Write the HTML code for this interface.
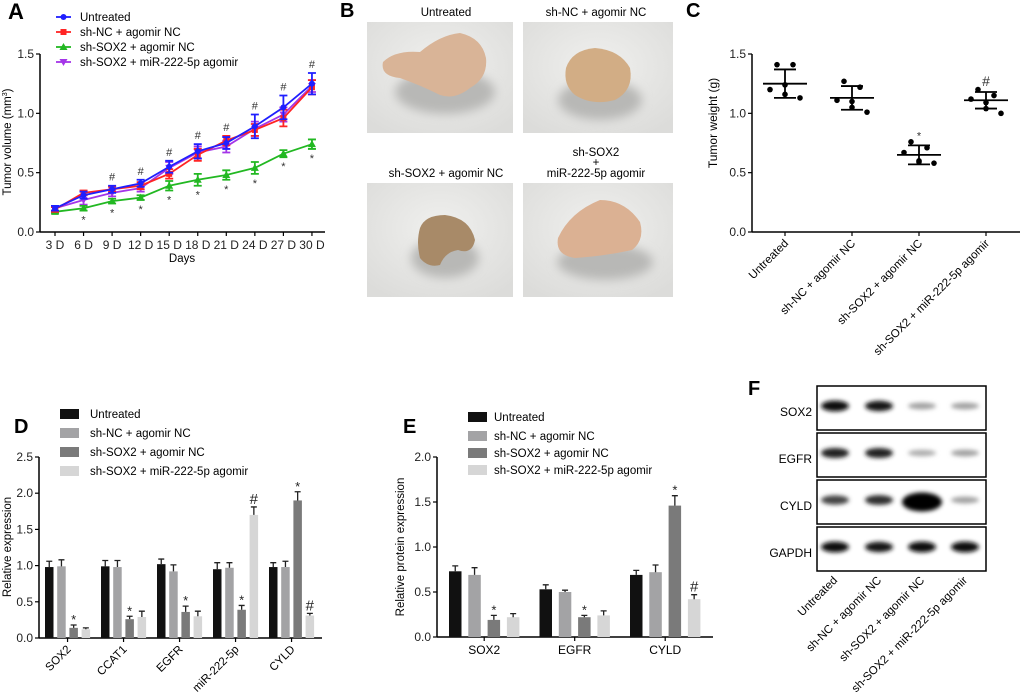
<!DOCTYPE html>
<html><head><meta charset="utf-8"><style>
html,body{margin:0;padding:0;background:#fff;}
svg{display:block;font-family:"Liberation Sans",Arial,sans-serif;}
</style></head><body>
<svg id="fig" width="1020" height="697" viewBox="0 0 1020 697" xmlns="http://www.w3.org/2000/svg">
<defs>
<filter id="blur2" x="-50%" y="-100%" width="200%" height="300%"><feGaussianBlur stdDeviation="2"/></filter>
<filter id="blur5" x="-50%" y="-50%" width="200%" height="200%"><feGaussianBlur stdDeviation="5"/></filter>
<radialGradient id="bg" cx="50%" cy="40%" r="70%"><stop offset="0" stop-color="#f0f0ee"/><stop offset="1" stop-color="#dcdcda"/></radialGradient>
</defs>
<g id="A"></g>
<g id="B">
  <text x="340" y="17" font-size="20" font-weight="bold">B</text>
  <text x="446" y="16" font-size="11.5" text-anchor="middle">Untreated</text>
  <text x="596" y="16" font-size="11.5" text-anchor="middle">sh-NC + agomir NC</text>
  <text x="446" y="177" font-size="11.5" text-anchor="middle">sh-SOX2 + agomir NC</text>
  <text x="596" y="156" font-size="11.5" text-anchor="middle">sh-SOX2</text>
  <text x="596" y="166" font-size="11.5" text-anchor="middle">+</text>
  <text x="596" y="177" font-size="11.5" text-anchor="middle">miR-222-5p agomir</text>
  <g>
    <rect x="367" y="22" width="146" height="111" fill="url(#bg)"/>
    <ellipse cx="445" cy="92" rx="50" ry="22" fill="#b8b8b6" filter="url(#blur5)"/>
    <path d="M383 62 Q395 50 420 52 Q440 35 460 33 Q482 38 486 58 Q488 78 470 88 Q455 100 440 95 Q420 85 400 78 Q380 76 383 62Z" fill="#d9b497"/>
  </g>
  <g>
    <rect x="523" y="22" width="150" height="111" fill="url(#bg)"/>
    <ellipse cx="600" cy="100" rx="42" ry="20" fill="#b8b8b6" filter="url(#blur5)"/>
    <path d="M566 68 Q572 50 595 48 Q620 50 630 68 Q634 90 615 100 Q592 106 575 95 Q563 85 566 68Z" fill="#d2ad85"/>
  </g>
  <g>
    <rect x="367" y="183" width="146" height="114" fill="url(#bg)"/>
    <ellipse cx="445" cy="258" rx="34" ry="20" fill="#b8b8b6" filter="url(#blur5)"/>
    <path d="M420 228 Q425 215 445 215 Q470 218 475 240 Q472 255 458 250 Q445 252 440 265 Q428 268 420 258 Q416 242 420 228Z" fill="#a88a68"/>
  </g>
  <g>
    <rect x="523" y="183" width="150" height="114" fill="url(#bg)"/>
    <ellipse cx="605" cy="262" rx="48" ry="18" fill="#b8b8b6" filter="url(#blur5)"/>
    <path d="M558 238 Q570 212 600 200 Q625 200 640 222 Q645 240 632 250 Q605 256 575 258 Q555 255 558 238Z" fill="#dbb193"/>
  </g>
</g>
<g id="C"></g>
<g id="D"></g>
<g id="E"></g>
<g id="F"></g>
</svg>
<script>
const NS='http://www.w3.org/2000/svg';
function mk(parent,tag,attrs,txt){const e=document.createElementNS(NS,tag);for(const k in attrs)e.setAttribute(k,attrs[k]);if(txt!==undefined)e.textContent=txt;parent.appendChild(e);return e;}

// ---------- Panel A data ----------
const daysLabels=['3 D','6 D','9 D','12 D','15 D','18 D','21 D','24 D','27 D','30 D'];
const untreatedVol=[0.20,0.31,0.36,0.41,0.55,0.68,0.75,0.89,1.05,1.25];
const shncVol=[0.19,0.33,0.36,0.39,0.49,0.65,0.77,0.86,0.96,1.22];
const shsox2Vol=[0.17,0.20,0.26,0.29,0.39,0.44,0.48,0.54,0.66,0.74];
const mirVol=[0.20,0.27,0.33,0.37,0.54,0.67,0.72,0.87,0.99,1.23];
const untreatedErr=[0.02,0.03,0.03,0.03,0.05,0.06,0.05,0.10,0.10,0.09];
const shncErr=[0.02,0.02,0.02,0.03,0.04,0.05,0.04,0.05,0.07,0.06];
const shsox2Err=[0.01,0.02,0.02,0.02,0.04,0.05,0.04,0.05,0.03,0.04];
const mirErr=[0.02,0.04,0.03,0.03,0.05,0.05,0.05,0.06,0.06,0.05];
const aTicks=[0,0.5,1.0,1.5];

// ---------- Panel C data ----------
const cGroups=['Untreated','sh-NC + agomir NC','sh-SOX2 + agomir NC','sh-SOX2 + miR-222-5p agomir'];
const cPoints=[[1.41,1.41,1.20,1.24,1.16,1.13],[1.27,1.22,1.11,1.10,1.05,1.01],[0.76,0.71,0.67,0.60,0.59,0.58],[1.20,1.15,1.12,1.09,1.04,1.00]];
const cMeans=[1.25,1.13,0.65,1.11];
const cSD=[0.12,0.10,0.08,0.07];
const cMarks=['','','*','#'];

// ---------- Panel D data ----------
const dGenes=['SOX2','CCAT1','EGFR','miR-222-5p','CYLD'];
const dUntreated=[0.98,0.99,1.02,0.95,0.98];
const dShnc=[0.99,0.98,0.92,0.97,0.98];
const dShsox2=[0.14,0.26,0.36,0.39,1.90];
const dMir=[0.12,0.29,0.30,1.70,0.31];
const dErr=[[0.08,0.08,0.07,0.09,0.06],[0.09,0.09,0.09,0.07,0.08],[0.04,0.04,0.08,0.06,0.12],[0.02,0.08,0.07,0.11,0.03]];
const dMarks=[['','','','',''],['','','','',''],['*','*','*','*','*'],['','','','#','#']];
const dTicks=[0,0.5,1.0,1.5,2.0,2.5];

// ---------- Panel E data ----------
const eProteins=['SOX2','EGFR','CYLD'];
const eUntreated=[0.73,0.53,0.69];
const eShnc=[0.69,0.50,0.72];
const eShsox2=[0.19,0.22,1.46];
const eMir=[0.22,0.24,0.42];
const eErr=[[0.06,0.05,0.05],[0.08,0.02,0.08],[0.05,0.02,0.11],[0.04,0.05,0.05]];
const eMarks=[['','',''],['','',''],['*','*','*'],['','','#']];
const eTicks=[0,0.5,1.0,1.5,2.0];

// ---------- Panel F data (band intensities 0..1) ----------
const fProteins=['SOX2','EGFR','CYLD','GAPDH'];
const fLanes=['Untreated','sh-NC + agomir NC','sh-SOX2 + agomir NC','sh-SOX2 + miR-222-5p agomir'];
const fIntensity=[[0.95,0.9,0.3,0.3],[0.85,0.85,0.25,0.3],[0.7,0.8,1.0,0.3],[0.95,0.9,0.95,0.95]];

const groupColorsBar=['#111111','#a3a3a5','#7a7a7a','#d6d6d6'];
const legendNames=['Untreated','sh-NC + agomir NC','sh-SOX2 + agomir NC','sh-SOX2 + miR-222-5p agomir'];

// ================= Panel A =================
(function(){
const g=document.getElementById('A');
const ax=i=>55+i*28.55, ay=v=>232-v*(178/1.5);
let t=mk(g,'text',{x:8,y:19,'font-size':22,'font-weight':'bold'},'A');


let l=mk(g,'line',{x1:40,y1:54,x2:40,y2:232,stroke:'#000','stroke-width':1.5});


l=mk(g,'line',{x1:40,y1:232,x2:325,y2:232,stroke:'#000','stroke-width':1.5});


aTicks.forEach(v=>{
  mk(g,'line',{x1:36,y1:ay(v),x2:40,y2:ay(v),stroke:'#000','stroke-width':1.2});
  const tx=mk(g,'text',{x:34,y:ay(v)+4,'font-size':12,'text-anchor':'end',fill:'#222'},v.toFixed(1));
  
  
});
daysLabels.forEach((d,i)=>{
  mk(g,'line',{x1:ax(i),y1:232,x2:ax(i),y2:236,stroke:'#000','stroke-width':1.2});
  const tx=mk(g,'text',{x:ax(i),y:249,'font-size':12,'text-anchor':'middle',fill:'#222'},d);
  
  
});
t=mk(g,'text',{x:182,y:262,'font-size':11.5,'text-anchor':'middle'},'Days');


t=mk(g,'text',{x:0,y:0,'font-size':11.5,'text-anchor':'middle',transform:'translate(11,142) rotate(-90)'});
t.innerHTML='Tumor volume (mm<tspan font-size="7" dy="-4">3</tspan><tspan dy="4">)</tspan>';


const series=[[untreatedVol,untreatedErr,'#1f1fff','circle'],[shncVol,shncErr,'#ff2424','square'],[shsox2Vol,shsox2Err,'#22b822','tri'],[mirVol,mirErr,'#a435e8','itri']];
function marker(gg,x,y,type,c,s){
  if(type==='circle')return mk(gg,'circle',{cx:x,cy:y,r:s,fill:c});
  if(type==='square')return mk(gg,'rect',{x:x-s,y:y-s,width:2*s,height:2*s,fill:c});
  if(type==='tri')return mk(gg,'polygon',{points:`${x},${y-s-1} ${x-s-1},${y+s} ${x+s+1},${y+s}`,fill:c});
  return mk(gg,'polygon',{points:`${x},${y+s+1} ${x-s-1},${y-s} ${x+s+1},${y-s}`,fill:c});
}
const order=[3,2,1,0];
order.forEach(si=>{
  const [vals,errs,c,type]=series[si];
  const sg=mk(g,'g',{});
  
  
  const pl=mk(sg,'polyline',{points:vals.map((v,i)=>ax(i)+','+ay(v)).join(' '),fill:'none',stroke:c,'stroke-width':1.8});
  
  
  vals.forEach((v,i)=>{
    const x=ax(i),y1=ay(v+errs[i]),y2=ay(v-errs[i]);
    mk(sg,'path',{d:`M${x},${y1}V${y2}M${x-4},${y1}H${x+4}M${x-4},${y2}H${x+4}`,stroke:c,'stroke-width':1.8,fill:'none'});
    const m=marker(sg,x,ay(v),type,c,3);
    
    
  });
});
untreatedVol.forEach((v,i)=>{
  if(i<2)return;
  const top=Math.max(v+untreatedErr[i],mirVol[i]+mirErr[i],shncVol[i]+shncErr[i]);
  const tx=mk(g,'text',{x:ax(i),y:ay(top)-5,'font-size':11,'text-anchor':'middle',fill:'#333'},'#');
  
  
});
shsox2Vol.forEach((v,i)=>{
  if(i<1)return;
  const tx=mk(g,'text',{x:ax(i),y:ay(v-shsox2Err[i])+13,'font-size':11,'text-anchor':'middle',fill:'#333'},'*');
  
  
});
series.forEach((s,i)=>{
  const y=17+i*15;
  const lg=mk(g,'g',{});
  
  
  mk(lg,'line',{x1:56,y1:y,x2:71,y2:y,stroke:s[2],'stroke-width':1.8});
  marker(lg,63.5,y,s[3],s[2],3);
  mk(lg,'text',{x:80,y:y+4,'font-size':11.5},legendNames[i]);
});
})();

// ================= Panel C =================
(function(){
const g=document.getElementById('C');
const cx=i=>785+i*67, cy=v=>232-v*(178/1.5);
let t=mk(g,'text',{x:686,y:17,'font-size':20,'font-weight':'bold'},'C');


let l=mk(g,'line',{x1:752,y1:54,x2:752,y2:232,stroke:'#000','stroke-width':1.5});


l=mk(g,'line',{x1:752,y1:232,x2:1020,y2:232,stroke:'#000','stroke-width':1.5});


aTicks.forEach(v=>{
  mk(g,'line',{x1:748,y1:cy(v),x2:752,y2:cy(v),stroke:'#000','stroke-width':1.2});
  const tx=mk(g,'text',{x:746,y:cy(v)+4,'font-size':12,'text-anchor':'end',fill:'#222'},v.toFixed(1));
  
  
});
t=mk(g,'text',{x:0,y:0,'font-size':12,'text-anchor':'middle',transform:'translate(717,123) rotate(-90)'},'Tumor weight (g)');


const offs=[-8,8,-15,0,0,15];
cGroups.forEach((name,i)=>{
  const x=cx(i);
  mk(g,'line',{x1:x,y1:232,x2:x,y2:236,stroke:'#000','stroke-width':1.2});
  const tx=mk(g,'text',{x:x+4,y:244,'font-size':11.5,'text-anchor':'end',transform:`rotate(-45 ${x+4} 244)`},name);
  
  
  const gg=mk(g,'g',{});
  
  
  const sorted=cPoints[i];
  sorted.forEach((v,j)=>{
    const p=mk(gg,'circle',{cx:x+offs[j],cy:cy(v),r:2.8,fill:'#000'});
    
    
  });
  const m=cMeans[i],s=cSD[i];
  const ml=mk(gg,'line',{x1:x-22,y1:cy(m),x2:x+22,y2:cy(m),stroke:'#000','stroke-width':1.8});
  
  
  mk(gg,'path',{d:`M${x},${cy(m+s)}V${cy(m-s)}M${x-11},${cy(m+s)}H${x+11}M${x-11},${cy(m-s)}H${x+11}`,stroke:'#000','stroke-width':1.8,fill:'none'});
  if(cMarks[i]){
    const mt=mk(g,'text',{x:x,y:cy(m+s)-6,'font-size':cMarks[i]==='#'?14:11,'text-anchor':'middle',fill:'#333'},cMarks[i]);
    
    
  }
});
})();

// ================= Bar chart helper =================
function barChart(g,prefix,cats,seriesVals,errs,marks,ticks,axisX,baseY,topY,maxV,axisEnd,x0,groupStep,barStep,barW,labelRot,catY){
  const yy=v=>baseY-v*(baseY-topY)/maxV;
  let l=mk(g,'line',{x1:axisX,y1:topY,x2:axisX,y2:baseY,stroke:'#000','stroke-width':1.5});
  
  
  l=mk(g,'line',{x1:axisX,y1:baseY,x2:axisEnd,y2:baseY,stroke:'#000','stroke-width':1.5});
  
  
  ticks.forEach(v=>{
    mk(g,'line',{x1:axisX-4,y1:yy(v),x2:axisX,y2:yy(v),stroke:'#000','stroke-width':1.2});
    const tx=mk(g,'text',{x:axisX-6,y:yy(v)+4,'font-size':12,'text-anchor':'end',fill:'#222'},v.toFixed(1));
    
    
  });
  cats.forEach((c,gi)=>{
    const cxm=x0+gi*groupStep+(3*barStep+barW)/2;
    mk(g,'line',{x1:cxm,y1:baseY,x2:cxm,y2:baseY+4,stroke:'#000','stroke-width':1.2});
    let tx;
    if(labelRot){tx=mk(g,'text',{x:cxm+4,y:catY,'font-size':11.5,'text-anchor':'end',transform:`rotate(-45 ${cxm+4} ${catY})`},c);}
    else{tx=mk(g,'text',{x:cxm,y:catY,'font-size':12,'text-anchor':'middle'},c);}
    
    
    seriesVals.forEach((vals,si)=>{
      const x=x0+gi*groupStep+si*barStep,v=vals[gi],e=errs[si][gi];
      const r=mk(g,'rect',{x:x,y:yy(v),width:barW,height:baseY-yy(v),fill:groupColorsBar[si]});
      
      
      const xc=x+barW/2;
      mk(g,'path',{d:`M${xc},${yy(v)}V${yy(v+e)}M${xc-3},${yy(v+e)}H${xc+3}`,stroke:'#222','stroke-width':1.3,fill:'none'});
      const mkr=marks[si][gi];
      if(mkr){
        const mt=mk(g,'text',{x:xc,y:yy(v+e)-(mkr==='#'?3:1),'font-size':mkr==='#'?15:13,'text-anchor':'middle',fill:'#222'},mkr);
        
        
      }
    });
  });
}
function legend(g,prefix,sx,ys,tx){
  legendNames.forEach((n,i)=>{
    const lg=mk(g,'g',{});
    
    
    mk(lg,'rect',{x:sx,y:ys[i]-5,width:19,height:10,fill:groupColorsBar[i]});
    mk(lg,'text',{x:tx,y:ys[i]+4,'font-size':11.5},n);
  });
}

// ================= Panel D =================
(function(){
const g=document.getElementById('D');
let t=mk(g,'text',{x:14,y:433,'font-size':20,'font-weight':'bold'},'D');


t=mk(g,'text',{x:0,y:0,'font-size':11.5,'text-anchor':'middle',transform:'translate(11,547) rotate(-90)'},'Relative expression');


barChart(g,'d',dGenes,[dUntreated,dShnc,dShsox2,dMir],dErr,dMarks,dTicks,39,638,457,2.5,322,45,56,12.2,8.5,true,650);
legend(g,'d',60,[414,433,452,471],90);
})();

// ================= Panel E =================
(function(){
const g=document.getElementById('E');
let t=mk(g,'text',{x:403,y:433,'font-size':20,'font-weight':'bold'},'E');


t=mk(g,'text',{x:0,y:0,'font-size':11.5,'text-anchor':'middle',transform:'translate(404,547) rotate(-90)'},'Relative protein expression');


barChart(g,'e',eProteins,[eUntreated,eShnc,eShsox2,eMir],eErr,eMarks,eTicks,437,637,457,2.0,713,449,90.5,19.3,12.5,false,654);
legend(g,'e',468,[417,436,453,470],494);
})();

// ================= Panel F =================
(function(){
const g=document.getElementById('F');
let t=mk(g,'text',{x:748,y:395,'font-size':20,'font-weight':'bold'},'F');


const boxY=[386,433,480,527],boxH=44,laneX=[835,879,922,965];
fProteins.forEach((p,ri)=>{
  const bg=mk(g,'g',{});
  
  
  mk(bg,'rect',{x:817,y:boxY[ri],width:169,height:boxH,fill:'#fff',stroke:'#000','stroke-width':1.5});
  fIntensity[ri].forEach((v,li)=>{
    const gray=Math.round(230-v*230);
    const b=mk(bg,'ellipse',{cx:laneX[li],cy:boxY[ri]+(ri===2&&li===2?22:20),rx:14+(ri===2&&li===2?6:0),ry:2.5+v*3+(ri===2&&li===2?4:0),fill:`rgb(${gray},${gray},${gray})`,filter:'url(#blur2)'});
    
    
  });
  const lt=mk(g,'text',{x:812,y:boxY[ri]+30,'font-size':12,'text-anchor':'end'},p);
  
  
});
fLanes.forEach((n,li)=>{
  const x=laneX[li]+3;
  const tx=mk(g,'text',{x:x,y:581,'font-size':11.5,'text-anchor':'end',transform:`rotate(-45 ${x} 581)`},n);
  
  
});
})();
</script>
</body></html>
